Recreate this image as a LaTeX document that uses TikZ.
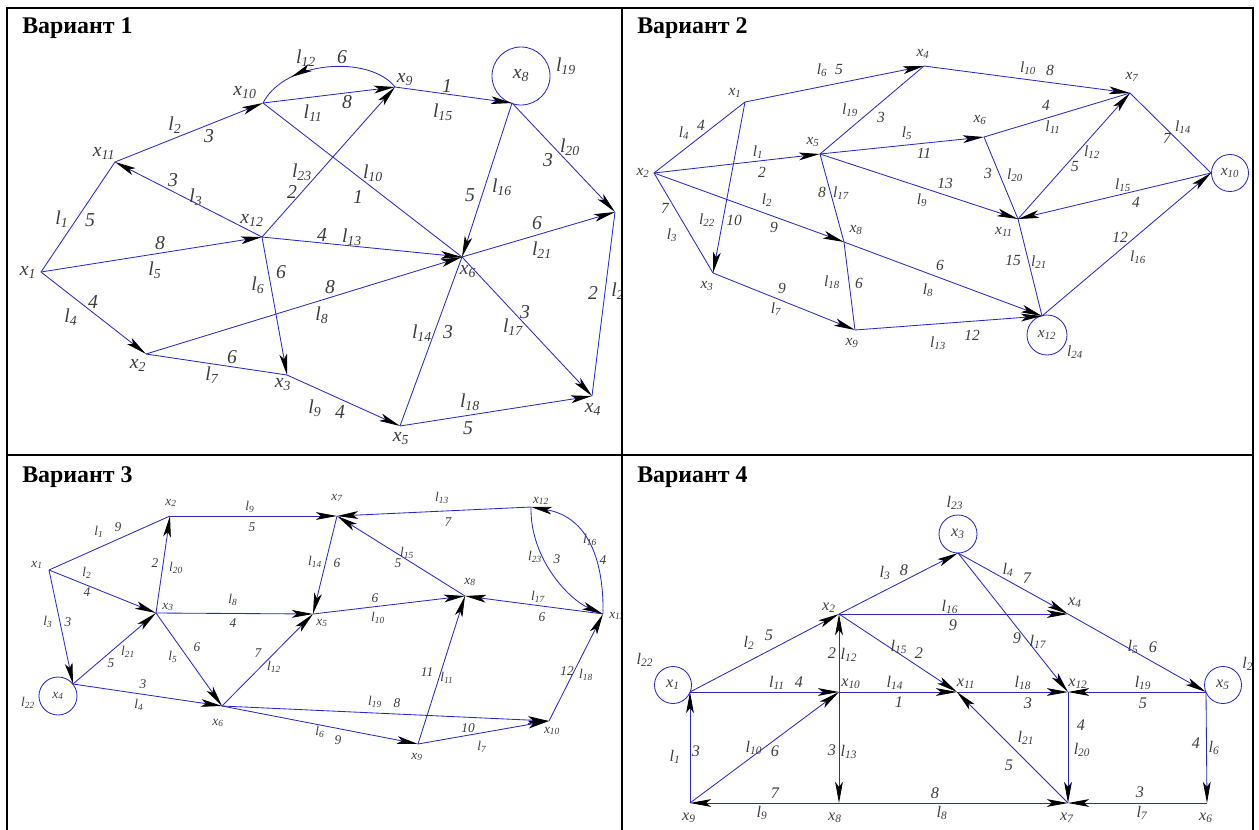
\documentclass[tikz,border=0pt]{standalone}
\usepackage{fontspec}
\setmainfont{Liberation Serif}
\usetikzlibrary{arrows.meta,decorations.markings}
\definecolor{edgeblue}{RGB}{40,40,205}
\definecolor{labgray}{RGB}{60,60,60}
\newcommand{\xk}[1]{\textit{x}\textsubscript{#1}}
\newcommand{\lk}[1]{\textit{l}\textsubscript{#1}}
\begin{document}
\begin{tikzpicture}[x=0.025cm, y=-0.025cm,
	ln/.style={edgeblue, line width=0.6pt},
	arr/.style={ln, -{Stealth[length=15pt,width=5.5pt,inset=3.5pt,color=black]}},
	midarr/.style={postaction={decorate}, decoration={markings, mark=at position #1 with {\arrow{Stealth[length=15pt,width=5.5pt,inset=3.5pt,color=black]}}}},
	lab/.style={inner sep=0pt, text=labgray},
	loopc/.style={draw=edgeblue, line width=0.6pt, circle, inner sep=0pt, text=labgray},
	title/.style={anchor=base west, inner sep=0pt, font=\fontsize{17}{20}\selectfont\bfseries}]
	\useasboundingbox (0,0) rectangle (1259,830);

	% Вариант 1
	\begin{scope}[every node/.append style={font=\fontsize{14}{16}\selectfont\itshape}]
	\clip (7,8) rectangle (622,455);
	\node[title] (t1) at (22,33) {Вариант 1};
	\coordinate (a1) at (41,272);
	\coordinate (a2) at (146,354);
	\coordinate (a3) at (287,375);
	\coordinate (a4) at (592,396);
	\coordinate (a5) at (400,426);
	\coordinate (a6) at (462,257);
	\coordinate (a7) at (615,212);
	\coordinate (a8) at (512,103);
	\coordinate (a9) at (395,87);
	\coordinate (a10) at (263,103);
	\coordinate (a11) at (115,162);
	\coordinate (a12) at (262,237);
	\node[loopc, minimum size=1.45cm] (a8c) at (521,76) {\xk{8}};
	\node[lab] (ta1) at (28,272) {\xk{1}};
	\node[lab] (ta2) at (138,365) {\xk{2}};
	\node[lab] (ta3) at (283,385) {\xk{3}};
	\node[lab] (ta4) at (593,409) {\xk{4}};
	\node[lab] (ta5) at (401,439) {\xk{5}};
	\node[lab] (ta6) at (468,272) {\xk{6}};
	\node[lab] (ta9) at (405,80) {\xk{9}};
	\node[lab] (ta10) at (245,93) {\xk{10}};
	\node[lab] (ta11) at (104,153) {\xk{11}};
	\node[lab] (ta12) at (252,220) {\xk{12}};

	\draw[ln]  (a1) -- (a11) node[lab] (al1) at (62,219) {\lk{1}} node[lab] (aw1) at (90,220) {5};
	\draw[arr] (a11) -- (a10) node[lab] (al2) at (175,125) {\lk{2}} node[lab] (aw2) at (209,136) {3};
	\draw[arr] (a12) -- (a11) node[lab] (al3) at (196,197) {\lk{3}} node[lab] (aw3) at (173,180) {3};
	\draw[arr] (a1) -- (a2) node[lab] (al4) at (71,317) {\lk{4}} node[lab] (aw4) at (93,302) {4};
	\draw[arr] (a1) -- (a12) node[lab] (al5) at (155,270) {\lk{5}} node[lab] (aw5) at (160,243) {8};
	\draw[arr] (a12) -- (a3) node[lab] (al6) at (258,285) {\lk{6}} node[lab] (aw6) at (281,272) {6};
	\draw[ln]  (a2) -- (a3) node[lab] (al7) at (212,375) {\lk{7}} node[lab] (aw7) at (232,357) {6};
	\draw[arr] (a2) -- (a6) node[lab] (al8) at (322,315) {\lk{8}} node[lab] (aw8) at (330,287) {8};
	\draw[arr] (a3) -- (a5) node[lab] (al9) at (315,408) {\lk{9}} node[lab] (aw9) at (340,412) {4};
	\draw[ln]  (a10) -- (a6) node[lab] (al10) at (373,173) {\lk{10}} node[lab] (aw10) at (358,197) {1};
	\draw[arr] (a10) -- (a9) node[lab] (al11) at (313,113) {\lk{11}} node[lab] (aw11) at (347,102) {8};
	\draw[ln, midarr=0.74] (a9) .. controls (370,55) and (285,60) .. (a10)
		node[lab] (al12) at (306,58) {\lk{12}} node[lab] (aw12) at (342,57) {6};
	\draw[arr] (a12) -- (a6) node[lab] (al13) at (352,237) {\lk{13}} node[lab] (aw13) at (322,235) {4};
	\draw[ln]  (a6) -- (a5) node[lab] (al14) at (422,333) {\lk{14}} node[lab] (aw14) at (448,332) {3};
	\draw[arr] (a9) -- (a8) node[lab] (al15) at (443,112) {\lk{15}} node[lab] (aw15) at (447,86) {1};
	\draw[arr] (a8) -- (a6) node[lab] (al16) at (502,187) {\lk{16}} node[lab] (aw16) at (470,195) {5};
	\draw[arr] (a6) -- (a4) node[lab] (al17) at (513,327) {\lk{17}} node[lab] (aw17) at (525,312) {3};
	\draw[arr] (a5) -- (a4) node[lab] (al18) at (470,402) {\lk{18}} node[lab] (aw18) at (468,428) {5};
	\node[lab] (al19) at (566,66) {\lk{19}};
	\draw[arr] (a8) -- (a7) node[lab] (al20) at (570,147) {\lk{20}} node[lab] (aw20) at (548,160) {3};
	\draw[arr] (a6) -- (a7) node[lab] (al21) at (542,250) {\lk{21}} node[lab] (aw21) at (537,223) {6};
	\draw[ln]  (a7) -- (a4) node[lab, anchor=west] (al22) at (611,291) {\lk{22}} node[lab] (aw22) at (593,293) {2};
	\draw[arr] (a12) -- (a9) node[lab] (al23) at (302,172) {\lk{23}} node[lab] (aw23) at (292,192) {2};
	\end{scope}

	% Вариант 2
	\begin{scope}[every node/.append style={font=\fontsize{11}{13}\selectfont\itshape}]
	\clip (622,8) rectangle (1253,455);
	\node[title] (t2) at (637,33) {Вариант 2};
	\coordinate (b1) at (745,102);
	\coordinate (b2) at (654,173);
	\coordinate (b3) at (713,273);
	\coordinate (b4) at (924,66);
	\coordinate (b5) at (820,154);
	\coordinate (b6) at (984,137);
	\coordinate (b7) at (1130,93);
	\coordinate (b8) at (844,242);
	\coordinate (b9) at (855,330);
	\coordinate (b10) at (1211,173);
	\coordinate (b11) at (1018,219);
	\coordinate (b12) at (1042,316);
	\node[loopc, minimum size=0.925cm] (b10c) at (1230,173) {\xk{10}};
	\node[loopc, minimum size=1cm] (b12c) at (1047,335) {\xk{12}};
	\node[lab] (tb1) at (735,93) {\xk{1}};
	\node[lab] (tb2) at (643,173) {\xk{2}};
	\node[lab] (tb3) at (707,286) {\xk{3}};
	\node[lab] (tb4) at (923,54) {\xk{4}};
	\node[lab] (tb5) at (813,142) {\xk{5}};
	\node[lab] (tb6) at (980,120) {\xk{6}};
	\node[lab] (tb7) at (1132,77) {\xk{7}};
	\node[lab] (tb8) at (856,230) {\xk{8}};
	\node[lab] (tb9) at (852,343) {\xk{9}};
	\node[lab] (tb11) at (1004,232) {\xk{11}};

	\draw[arr] (b2) -- (b5) node[lab] (bl1) at (758,152) {\lk{1}} node[lab] (bw1) at (762,172) {2};
	\draw[arr] (b2) -- (b8) node[lab] (bl2) at (767,200) {\lk{2}} node[lab] (bw2) at (774,227) {9};
	\draw[ln]  (b2) -- (b3) node[lab] (bl3) at (672,235) {\lk{3}} node[lab] (bw3) at (665,208) {7};
	\draw[ln]  (b2) -- (b1) node[lab] (bl4) at (684,133) {\lk{4}} node[lab] (bw4) at (701,125) {4};
	\draw[arr] (b5) -- (b6) node[lab] (bl5) at (907,133) {\lk{5}} node[lab] (bw5) at (924,153) {11};
	\draw[arr] (b1) -- (b4) node[lab] (bl6) at (822,70) {\lk{6}} node[lab] (bw6) at (839,70) {5};
	\draw[arr] (b3) -- (b9) node[lab] (bl7) at (776,309) {\lk{7}} node[lab] (bw7) at (782,288) {9};
	\draw[arr] (b8) -- (b12) node[lab] (bl8) at (928,290) {\lk{8}} node[lab] (bw8) at (940,265) {6};
	\draw[arr] (b5) -- (b11) node[lab] (bl9) at (922,200) {\lk{9}} node[lab] (bw9) at (945,183) {13};
	\draw[arr] (b4) -- (b7) node[lab] (bl10) at (1028,68) {\lk{10}} node[lab] (bw10) at (1050,70) {8};
	\draw[ln]  (b6) -- (b7) node[lab] (bl11) at (1053,127) {\lk{11}} node[lab] (bw11) at (1046,105) {4};
	\draw[arr] (b11) -- (b7) node[lab] (bl12) at (1092,152) {\lk{12}} node[lab] (bw12) at (1075,167) {5};
	\draw[arr] (b9) -- (b12) node[lab] (bl13) at (938,343) {\lk{13}} node[lab] (bw13) at (972,335) {12};
	\draw[ln]  (b7) -- (b10) node[lab] (bl14) at (1183,127) {\lk{14}} node[lab] (bw14) at (1167,138) {7};
	\draw[arr] (b10) -- (b11) node[lab] (bl15) at (1123,185) {\lk{15}} node[lab] (bw15) at (1136,202) {4};
	\draw[arr] (b12) -- (b10) node[lab] (bl16) at (1138,257) {\lk{16}} node[lab] (bw16) at (1120,237) {12};
	\draw[ln]  (b5) -- (b8) node[lab] (bl17) at (841,193) {\lk{17}} node[lab] (bw17) at (822,192) {8};
	\draw[ln]  (b8) -- (b9) node[lab] (bl18) at (832,282) {\lk{18}} node[lab] (bw18) at (859,283) {6};
	\draw[ln]  (b5) -- (b4) node[lab] (bl19) at (850,110) {\lk{19}} node[lab] (bw19) at (881,117) {3};
	\draw[ln]  (b6) -- (b11) node[lab] (bl20) at (1015,175) {\lk{20}} node[lab] (bw20) at (988,173) {3};
	\draw[ln]  (b11) -- (b12) node[lab] (bl21) at (1039,262) {\lk{21}} node[lab] (bw21) at (1013,260) {15};
	\draw[arr] (b1) -- (b3) node[lab] (bl22) at (707,220) {\lk{22}} node[lab] (bw22) at (734,220) {10};
	\node[lab] (bl24) at (1075,352) {\lk{24}};
	\end{scope}

	% Вариант 3
	\begin{scope}[every node/.append style={font=\fontsize{9.5}{11}\selectfont\itshape}]
	\clip (7,455) rectangle (622,830);
	\node[title] (t3) at (22,482) {Вариант 3};
	\coordinate (c1) at (49,570);
	\coordinate (c2) at (170,516);
	\coordinate (c3) at (156,613);
	\coordinate (c4) at (73,684);
	\coordinate (c5) at (313,614);
	\coordinate (c6) at (222,706);
	\coordinate (c7) at (337,516);
	\coordinate (c8) at (465,596);
	\coordinate (c9) at (418,744);
	\coordinate (c10) at (549,721);
	\coordinate (c11) at (603,614);
	\coordinate (c12) at (531,507);
	\node[loopc, minimum size=0.95cm] (c4c) at (58,696) {\xk{4}};
	\node[lab] (tc1) at (37,565) {\xk{1}};
	\node[lab] (tc2) at (171,503) {\xk{2}};
	\node[lab] (tc3) at (168,607) {\xk{3}};
	\node[lab] (tc5) at (322,623) {\xk{5}};
	\node[lab] (tc6) at (218,723) {\xk{6}};
	\node[lab] (tc7) at (337,498) {\xk{7}};
	\node[lab] (tc8) at (470,582) {\xk{8}};
	\node[lab] (tc9) at (417,757) {\xk{9}};
	\node[lab] (tc10) at (552,731) {\xk{10}};
	\node[lab, anchor=west] (tc11) at (609,616) {\xk{11}};
	\node[lab] (tc12) at (541,501) {\xk{12}};

	\draw[ln]  (c1) -- (c2) node[lab] (cl1) at (99,532) {\lk{1}} node[lab] (cw1) at (118,527) {9};
	\draw[arr] (c1) -- (c3) node[lab] (cl2) at (87,573) {\lk{2}} node[lab] (cw2) at (87,592) {4};
	\draw[arr] (c1) -- (c4) node[lab] (cl3) at (48,622) {\lk{3}} node[lab] (cw3) at (68,622) {3};
	\draw[arr] (c4) -- (c6) node[lab] (cl4) at (139,705) {\lk{4}} node[lab] (cw4) at (143,684) {3};
	\draw[arr] (c3) -- (c6) node[lab] (cl5) at (173,657) {\lk{5}} node[lab] (cw5) at (197,647) {6};
	\draw[arr] (c6) -- (c9) node[lab] (cl6) at (320,732) {\lk{6}} node[lab] (cw6) at (338,740) {9};
	\draw[arr] (c9) -- (c10) node[lab] (cl7) at (482,747) {\lk{7}} node[lab] (cw7) at (468,728) {10};
	\draw[arr] (c3) -- (c5) node[lab] (cl8) at (233,600) {\lk{8}} node[lab] (cw8) at (233,623) {4};
	\draw[arr] (c2) -- (c7) node[lab] (cl9) at (250,507) {\lk{9}} node[lab] (cw9) at (252,527) {5};
	\draw[arr] (c5) -- (c8) node[lab] (cl10) at (378,618) {\lk{10}} node[lab] (cw10) at (375,598) {6};
	\draw[arr] (c9) -- (c8) node[lab] (cl11) at (447,678) {\lk{11}} node[lab] (cw11) at (427,672) {11};
	\draw[arr] (c6) -- (c5) node[lab] (cl12) at (274,667) {\lk{12}} node[lab] (cw12) at (258,653) {7};
	\draw[arr] (c12) -- (c7) node[lab] (cl13) at (442,498) {\lk{13}} node[lab] (cw13) at (448,522) {7};
	\draw[arr] (c7) -- (c5) node[lab] (cl14) at (315,562) {\lk{14}} node[lab] (cw14) at (337,563) {6};
	\draw[arr] (c8) -- (c7) node[lab] (cl15) at (407,553) {\lk{15}} node[lab] (cw15) at (398,563) {5};
	\draw[arr] (c11) .. controls (604,560) and (588,517) .. (c12)
		node[lab] (cl16) at (590,540) {\lk{16}} node[lab] (cw16) at (603,560) {4};
	\draw[arr] (c11) -- (c8) node[lab] (cl17) at (538,597) {\lk{17}} node[lab] (cw17) at (542,617) {6};
	\draw[arr] (c10) -- (c11) node[lab] (cl18) at (586,675) {\lk{18}} node[lab] (cw18) at (567,671) {12};
	\draw[arr] (c6) -- (c10) node[lab] (cl19) at (375,702) {\lk{19}} node[lab] (cw19) at (397,703) {8};
	\draw[arr] (c3) -- (c2) node[lab] (cl20) at (176,568) {\lk{20}} node[lab] (cw20) at (155,563) {2};
	\draw[arr] (c4) -- (c3) node[lab] (cl21) at (128,652) {\lk{21}} node[lab] (cw21) at (111,663) {5};
	\node[lab] (cl22) at (28,703) {\lk{22}};
	\draw[arr] (c12) .. controls (530,560) and (570,600) .. (c11)
		node[lab] (cl23) at (535,557) {\lk{23}} node[lab] (cw23) at (557,559) {3};
	\end{scope}

	% Вариант 4
	\begin{scope}[every node/.append style={font=\fontsize{11.5}{13}\selectfont\itshape}]
	\clip (622,455) rectangle (1253,830);
	\node[title] (t4) at (637,482) {Вариант 4};
	\coordinate (d1) at (690,692);
	\coordinate (d2) at (839,614);
	\coordinate (d3) at (958,553);
	\coordinate (d4) at (1068,614);
	\coordinate (d5) at (1206,692);
	\coordinate (d6) at (1207,803);
	\coordinate (d7) at (1068,803);
	\coordinate (d8) at (839,803);
	\coordinate (d9) at (690,803);
	\coordinate (d10) at (839,692);
	\coordinate (d11) at (957,692);
	\coordinate (d12) at (1068,692);
	\node[loopc, minimum size=0.925cm] (d1c) at (673,685) {\xk{1}};
	\node[loopc, minimum size=0.95cm] (d3c) at (958,534) {\xk{3}};
	\node[loopc, minimum size=0.925cm] (d5c) at (1223,685) {\xk{5}};
	\node[lab] (td2) at (829,608) {\xk{2}};
	\node[lab] (td4) at (1075,603) {\xk{4}};
	\node[lab] (td6) at (1206,818) {\xk{6}};
	\node[lab] (td7) at (1067,818) {\xk{7}};
	\node[lab] (td8) at (835,818) {\xk{8}};
	\node[lab] (td9) at (689,818) {\xk{9}};
	\node[lab] (td10) at (851,684) {\xk{10}};
	\node[lab] (td11) at (966,684) {\xk{11}};
	\node[lab] (td12) at (1078,684) {\xk{12}};

	\draw[arr] (d9) -- (d1) node[lab] (dl1) at (675,757) {\lk{1}} node[lab] (dw1) at (696,751) {3};
	\draw[arr] (d1) -- (d2) node[lab] (dl2) at (749,643) {\lk{2}} node[lab] (dw2) at (769,635) {5};
	\draw[arr] (d2) -- (d3) node[lab] (dl3) at (885,573) {\lk{3}} node[lab] (dw3) at (904,570) {8};
	\draw[arr] (d3) -- (d4) node[lab] (dl4) at (1008,570) {\lk{4}} node[lab] (dw4) at (1027,578) {7};
	\draw[arr] (d4) -- (d5) node[lab] (dl5) at (1133,647) {\lk{5}} node[lab] (dw5) at (1153,647) {6};
	\draw[arr] (d5) -- (d6) node[lab] (dl6) at (1214,748) {\lk{6}} node[lab] (dw6) at (1196,743) {4};
	\draw[arr] (d6) -- (d7) node[lab] (dl7) at (1142,813) {\lk{7}} node[lab] (dw7) at (1140,792) {3};
	\draw[arr] (d8) -- (d7) node[lab] (dl8) at (942,813) {\lk{8}} node[lab] (dw8) at (935,793) {8};
	\draw[arr] (d8) -- (d9) node[lab] (dl9) at (762,813) {\lk{9}} node[lab] (dw9) at (775,793) {7};
	\draw[arr] (d9) -- (d10) node[lab] (dl10) at (754,748) {\lk{10}} node[lab] (dw10) at (775,751) {6};
	\draw[arr] (d1) -- (d10) node[lab] (dl11) at (777,683) {\lk{11}} node[lab] (dw11) at (799,682) {4};
	\draw[arr] (d10) -- (d2) node[lab] (dl12) at (849,655) {\lk{12}} node[lab] (dw12) at (832,653) {2};
	\draw[arr] (d10) -- (d8) node[lab] (dl13) at (849,752) {\lk{13}} node[lab] (dw13) at (832,750) {3};
	\draw[arr] (d10) -- (d11) node[lab] (dl14) at (895,683) {\lk{14}} node[lab] (dw14) at (899,702) {1};
	\draw[arr] (d2) -- (d11) node[lab] (dl15) at (899,647) {\lk{15}} node[lab] (dw15) at (919,653) {2};
	\draw[arr] (d2) -- (d4) node[lab] (dl16) at (950,607) {\lk{16}} node[lab] (dw16) at (953,625) {9};
	\draw[arr] (d3) -- (d12) node[lab] (dl17) at (1038,642) {\lk{17}} node[lab] (dw17) at (1017,638) {9};
	\draw[arr] (d11) -- (d12) node[lab] (dl18) at (1023,683) {\lk{18}} node[lab] (dw18) at (1028,703) {3};
	\draw[arr] (d5) -- (d12) node[lab] (dl19) at (1143,683) {\lk{19}} node[lab] (dw19) at (1143,703) {5};
	\draw[arr] (d12) -- (d7) node[lab] (dl20) at (1082,750) {\lk{20}} node[lab] (dw20) at (1081,725) {4};
	\draw[arr] (d7) -- (d11) node[lab] (dl21) at (1026,738) {\lk{21}} node[lab] (dw21) at (1009,765) {5};
	\node[lab] (dl22) at (645,660) {\lk{22}};
	\node[lab] (dl23) at (955,503) {\lk{23}};
	\node[lab, anchor=west] (dl24) at (1242,664) {\lk{24}};
	\end{scope}

	% рамка таблицы
	\draw[line width=1.5pt] (7,830) -- (7,8) -- (1253,8) -- (1253,830);
	\draw[line width=1.5pt] (622,8) -- (622,830);
	\draw[line width=1.5pt] (7,455) -- (1253,455);
\end{tikzpicture}
\end{document}
